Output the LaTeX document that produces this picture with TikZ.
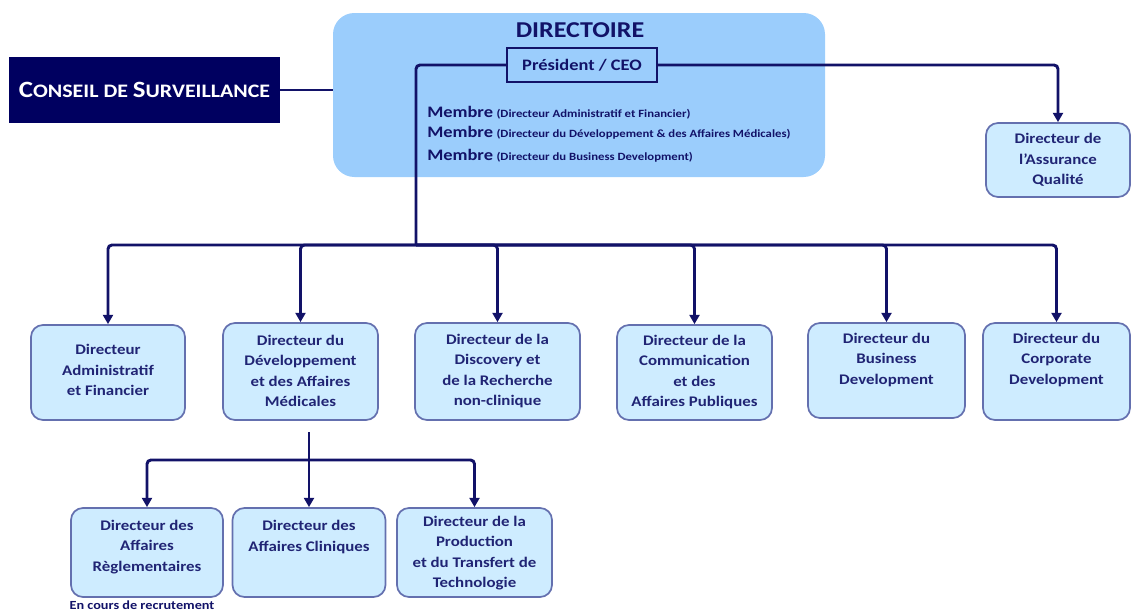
\documentclass[tikz,border=0pt]{standalone}
\usepackage{fontspec}
\setmainfont{Carlito}[FakeStretch=1.15]
\usetikzlibrary{arrows.meta}
\definecolor{navy}{RGB}{18,18,104}
\definecolor{boardfill}{RGB}{0,0,96}
\definecolor{dirfill}{RGB}{155,205,252}
\definecolor{unitfill}{RGB}{206,236,255}
\definecolor{unitedge}{RGB}{100,112,175}
\definecolor{unittext}{RGB}{32,36,116}
\newcommand\capinit[1]{{\fontsize{17.5}{20}\selectfont #1}}
\newcommand\memberrole[1]{{\fontsize{12}{14}\selectfont Membre} {\fontsize{8.3}{10}\selectfont (#1)}}
\begin{document}
\begin{tikzpicture}[x=0.75pt,y=-0.75pt,
  unit/.style={draw=unitedge, line width=1.3pt, fill=unitfill, rounded corners=9pt, inner sep=0pt},
  utext/.style={font=\bfseries\fontsize{11}{15.4}\selectfont, text=unittext, align=center, inner sep=0pt},
  member/.style={anchor=west, inner sep=0pt, text=navy, font=\bfseries},
  link/.style={draw=navy, line width=2.2pt, rounded corners=3pt},
  feed/.style={link, -{Triangle[length=7pt,width=7.5pt]}},
]
\useasboundingbox (0,0) rectangle (1132,614);

% Directoire block
\node[fill=dirfill, rounded corners=16pt, minimum width=369pt, minimum height=123pt, inner sep=0pt] (dir) at (579,95) {};
\node[font=\bfseries\fontsize{17}{20}\selectfont, text=navy, inner sep=0pt] (dirtitle) at (580,30) {DIRECTOIRE};
\node[draw=navy, line width=1.8pt, fill=dirfill, minimum width=112.5pt, minimum height=25.5pt, inner sep=0pt,
      font=\bfseries\fontsize{12}{14}\selectfont, text=navy] (ceo) at (582,65) {Président / CEO};
\node[member] (m1) at (427,113) {\memberrole{Directeur Administratif et Financier}};
\node[member] (m2) at (427,133) {\memberrole{Directeur du Développement \& des Affaires Médicales}};
\node[member] (m3) at (427,156) {\memberrole{Directeur du Business Development}};

% Supervisory board
\node[fill=boardfill, minimum width=203.25pt, minimum height=49.5pt, inner sep=0pt, text=white,
      font=\bfseries\fontsize{14.3}{17}\selectfont] (board) at (144.5,90) {\capinit{C}ONSEIL DE \capinit{S}URVEILLANCE};

% Quality assurance
\node[unit, minimum width=108pt, minimum height=55.5pt] (qa) at (1058,160) {};
\node[utext] (tqa) at (1058,160) {Directeur de\\l’Assurance\\Qualité};

% Second level
\node[unit, minimum width=115.5pt, minimum height=71.25pt] (b1) at (108,372.5) {};
\node[unit, minimum width=116.25pt, minimum height=72.75pt] (b2) at (300.5,371.5) {};
\node[unit, minimum width=123.75pt, minimum height=72.75pt] (b3) at (497.5,371.5) {};
\node[unit, minimum width=116.25pt, minimum height=71.25pt] (b4) at (694.5,372.5) {};
\node[unit, minimum width=117.75pt, minimum height=71.25pt] (b5) at (886.5,370.5) {};
\node[unit, minimum width=110.25pt, minimum height=72.75pt] (b6) at (1056.5,371.5) {};

\node[utext] (t1) at (108,370) {Directeur\\Administratif\\et Financier};
\node[utext] (t2) at (300.5,371) {Directeur du\\Développement\\et des Affaires\\Médicales};
\node[utext] (t3) at (497.5,371) {Directeur de la\\Discovery et\\de la Recherche\\non-clinique};
\node[utext] (t4) at (694.5,372) {Directeur de la\\Communication\\et des\\Affaires Publiques};
\node[utext] (t5) at (886.5,360) {Directeur du\\Business\\Development};
\node[utext] (t6) at (1056.5,360) {Directeur du\\Corporate\\Development};

% Third level
\node[unit, minimum width=114pt, minimum height=66.75pt] (sA) at (147,552.5) {};
\node[unit, minimum width=114.75pt, minimum height=66.75pt] (sB) at (309,552.5) {};
\node[unit, minimum width=116.25pt, minimum height=66.75pt] (sC) at (474.5,552.5) {};

\node[utext] (tA) at (147,547) {Directeur des\\Affaires\\Règlementaires};
\node[utext] (tB) at (309,537) {Directeur des\\Affaires Cliniques};
\node[utext] (tC) at (474.5,553) {Directeur de la\\Production\\et du Transfert de\\Technologie};
\node[font=\bfseries\fontsize{9.3}{11}\selectfont, text=navy, inner sep=0pt] (note) at (142,605) {En cours de recrutement};

% Connectors
\coordinate (hub) at (416,245);
\coordinate (subtop) at (309,432);
\coordinate (subhub) at (309,460);

\draw[link] (board.east) -- (board.east -| dir.west);
\draw[link] (ceo.west) -| (hub);
\foreach \b in {b1,b2,b3,b4,b5,b6}
  \draw[feed] (hub) -| (\b.north);
\draw[feed] (ceo.east) -| (qa.north);

\draw[link] (subtop) -- (subhub);
\foreach \b in {sA,sB,sC}
  \draw[feed] (subhub) -| (\b.north);
\end{tikzpicture}
\end{document}
